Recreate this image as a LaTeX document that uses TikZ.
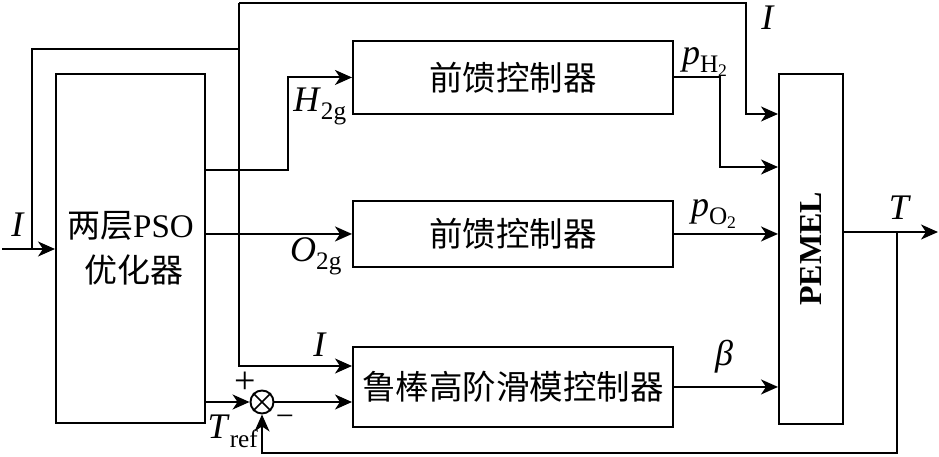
\documentclass[tikz,border=0pt]{standalone}
\usepackage{fontspec}
\setmainfont{Liberation Serif}
\newfontfamily\cjk{Noto Sans CJK SC}
\usetikzlibrary{arrows.meta}
\begin{document}
\begin{tikzpicture}[x=1pt,y=-1pt,line width=1.9pt,
  blk/.style={draw,rectangle,anchor=north west,inner sep=0pt,font=\cjk\fontsize{33.5}{38}\selectfont},
  arr/.style={-{Stealth[length=17pt,width=15pt,inset=5pt]}},
  lbl/.style={font=\fontsize{36}{38}\selectfont,inner sep=0pt},
  sgn/.style={font=\fontsize{38}{40}\selectfont,inner sep=0pt}]
\useasboundingbox (0,0) rectangle (939,457);
% blocks
\node[blk,minimum width=149pt,minimum height=349pt] (pso) at (55,73) {};
\node[font=\fontsize{33}{45}\selectfont,align=center,inner sep=0pt] at (pso.center) {{\cjk 两层}PSO\\\hspace*{8pt}{\cjk 优化器}};
\node[blk,minimum width=320pt,minimum height=73pt] (ff1) at (352,40) {前馈控制器};
\node[blk,minimum width=320pt,minimum height=66pt] (ff2) at (352,200) {前馈控制器};
\node[blk,minimum width=320pt,minimum height=80pt] (smc) at (352,346) {鲁棒高阶滑模控制器};
\node[blk,minimum width=64pt,minimum height=350pt] (pemel) at (778,73) {};
\node[rotate=90,font=\bfseries\fontsize{32}{32}\selectfont,inner sep=0pt] at (pemel.center) {PEMEL};
\node[draw,circle,minimum size=23pt,inner sep=0pt] (sum) at (262,402) {};
\draw[line width=1.6pt] (sum.45) -- (sum.225) (sum.135) -- (sum.315);
% branch points
\coordinate (inL) at (2,249);
\coordinate (j1) at (32,249);
\coordinate (jtop) at (239,3);
\coordinate (jI) at (746,3);
\coordinate (hk) at (288,170);
\coordinate (pk) at (ff1.east -| 720,0);
\coordinate (tb) at (897,232);
\coordinate (tout) at (938,232);
% connectors
\draw[arr] (inL) -- (pso.west |- inL);
\draw (j1) |- (jtop |- 0,49);
\draw[arr] (jtop) -- (jI) |- (pemel.west |- 0,114);
\draw[arr] (jtop) |- (smc.west |- 0,366);
\draw[arr] (pso.east |- hk) -- (hk) |- (ff1.west);
\draw[arr] (pso.east |- ff2.west) -- (ff2.west);
\draw[arr] (pso.east |- sum.west) -- (sum.west);
\draw[arr] (sum.east) -- (smc.west |- sum.east);
\draw[arr] (ff1.east) -- (pk) |- (pemel.west |- 0,167);
\draw[arr] (ff2.east) -- (pemel.west |- ff2.east);
\draw[arr] (smc.east) -- (pemel.west |- smc.east);
\draw[arr] (pemel.east |- tb) -- (tout);
\draw[arr] (tb) |- (sum.south |- 0,453) -- (sum.south);
% labels
\node[lbl] at (18,225) {\textit{I}};
\node[lbl] at (320,106) {\textit{H}\textsubscript{2g}};
\node[lbl] at (316,256) {\textit{O}\textsubscript{2g}};
\node[lbl] at (320,345) {\textit{I}};
\node[lbl] at (768,18) {\textit{I}};
\node[lbl] at (705,62) {\textit{p}\textsubscript{H\textsubscript{2}}};
\node[lbl] at (714,214) {\textit{p}\textsubscript{O\textsubscript{2}}};
\node[lbl] at (724,357) {\textit{β}};
\node[lbl] at (900,208) {\textit{T}};
\node[lbl] at (233,431) {\textit{T}\textsubscript{ref}};
\node[sgn] at (245,383) {+};
\node[sgn,font=\fontsize{32}{34}\selectfont] at (285,421) {−};
\end{tikzpicture}
\end{document}
